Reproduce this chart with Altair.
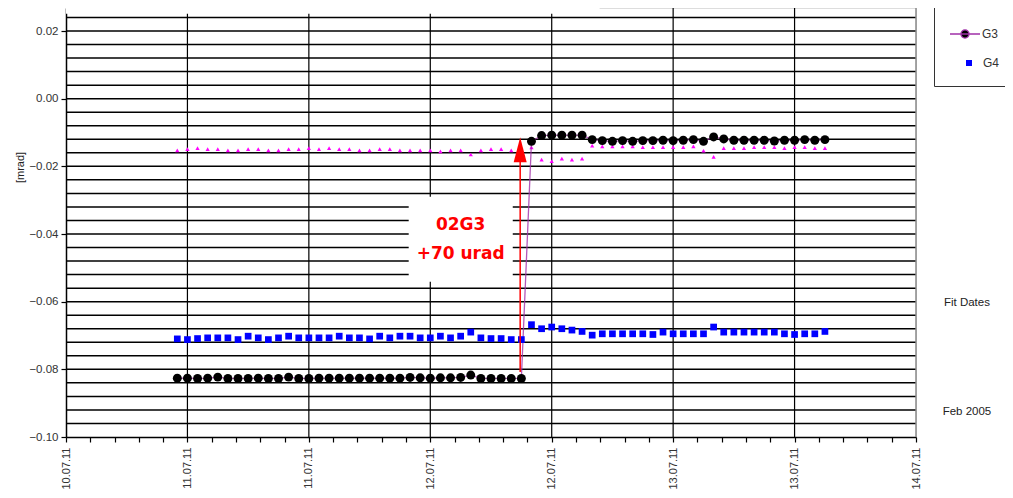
import altair as alt
import pandas as pd

# ---------------- data ----------------
start_time = "2011-07-10 23:00"   # first hourly reading
n_points = 65

g3_values = [
    -0.0826, -0.0826, -0.0827, -0.0826, -0.0823, -0.0827, -0.0827, -0.0827, -0.0826, -0.0827,
    -0.0827, -0.0823, -0.0827, -0.0827, -0.0826, -0.0826, -0.0826, -0.0826, -0.0826, -0.0826,
    -0.0826, -0.0826, -0.0826, -0.0824, -0.0825, -0.0826, -0.0825, -0.0825, -0.0824, -0.0817,
    -0.0827, -0.0827, -0.0827, -0.0827, -0.0827,
    -0.0126, -0.0109, -0.0108, -0.0108, -0.0108, -0.0108, -0.0121, -0.0124, -0.0126, -0.0124,
    -0.0126, -0.0124, -0.0124, -0.0123, -0.0124, -0.0123, -0.0121, -0.0126, -0.0113, -0.0119,
    -0.0123, -0.0123, -0.0123, -0.0123, -0.0125, -0.0123, -0.0123, -0.0121, -0.0123, -0.0121,
]
g4_values = [
    -0.0710, -0.0712, -0.0709, -0.0707, -0.0707, -0.0707, -0.0712, -0.0702, -0.0707, -0.0712,
    -0.0707, -0.0702, -0.0707, -0.0707, -0.0707, -0.0707, -0.0702, -0.0707, -0.0707, -0.0710,
    -0.0702, -0.0707, -0.0702, -0.0702, -0.0707, -0.0707, -0.0702, -0.0707, -0.0702, -0.0690,
    -0.0707, -0.0709, -0.0709, -0.0712, -0.0712,
    -0.0668, -0.0680, -0.0675, -0.0680, -0.0684, -0.0688, -0.0699, -0.0695, -0.0695, -0.0695,
    -0.0695, -0.0695, -0.0697, -0.0690, -0.0695, -0.0695, -0.0695, -0.0695, -0.0675, -0.0690,
    -0.0690, -0.0690, -0.0690, -0.0690, -0.0690, -0.0695, -0.0697, -0.0695, -0.0695, -0.0688,
]
g2_values = [
    -0.0153, -0.0149, -0.0146, -0.0149, -0.0149, -0.0153, -0.0153, -0.0149, -0.0149, -0.0153,
    -0.0153, -0.0149, -0.0149, -0.0146, -0.0149, -0.0146, -0.0149, -0.0149, -0.0153, -0.0153,
    -0.0149, -0.0149, -0.0153, -0.0153, -0.0153, -0.0153, -0.0156, -0.0153, -0.0153, -0.0165,
    -0.0153, -0.0149, -0.0149, -0.0153, -0.0153,
    -0.0144, -0.0180, -0.0185, -0.0177, -0.0180, -0.0177, -0.0139, -0.0141, -0.0141, -0.0141,
    -0.0141, -0.0143, -0.0143, -0.0143, -0.0143, -0.0143, -0.0141, -0.0154, -0.0172, -0.0146,
    -0.0146, -0.0146, -0.0143, -0.0143, -0.0143, -0.0146, -0.0143, -0.0143, -0.0146, -0.0146,
]

x_start = "2011-07-10T12:00:00Z"
x_end = "2011-07-14T00:00:00Z"
grid_times = ["2011-07-11T00:00:00Z", "2011-07-11T12:00:00Z", "2011-07-12T00:00:00Z",
              "2011-07-12T12:00:00Z", "2011-07-13T00:00:00Z", "2011-07-13T12:00:00Z"]
grid_values = [round(-0.096 + 0.004 * k, 3) for k in range(31)]
y_label_values = [-0.10, -0.08, -0.06, -0.04, -0.02, 0.00, 0.02]

arrow_time = "2011-07-12T08:53:00Z"
arrow_bottom, arrow_top, arrow_head = -0.0808, -0.0160, -0.0151
box_start, box_end = "2011-07-11T21:52:00Z", "2011-07-12T08:09:00Z"
box_top, box_bottom = -0.0290, -0.0541
note_time = "2011-07-12T03:00:00Z"
note_lines = ["02G3", "+70 urad"]
note_values = [-0.0372, -0.0458]
side_time = "2011-07-14T05:02:00Z"
side_texts = ["Fit Dates", "Feb 2005"]
side_values = [-0.0603, -0.0926]
cover_end = "2011-07-12T16:44:00Z"

# ---------------- frames ----------------
times = pd.date_range(start_time, periods=n_points, freq="h")
tstr = [t.strftime("%Y-%m-%dT%H:%M:00Z") for t in times]

g3_df = pd.DataFrame({"t": tstr, "v": g3_values, "series": "G3"})
g4_df = pd.DataFrame({"t": tstr, "v": g4_values, "series": "G4"})
g2_df = pd.DataFrame({"t": tstr, "v": g2_values})

x_ticks = list(pd.date_range("2011-07-10 12:00", "2011-07-14 00:00", freq="144min"))
x_tick_vals = [alt.DateTime(year=t.year, month=t.month, date=t.day, hours=t.hour,
                            minutes=t.minute, utc=True) for t in x_ticks]

xscale = alt.Scale(type="utc",
                   domain=[alt.DateTime(year=2011, month=7, date=10, hours=12, utc=True),
                           alt.DateTime(year=2011, month=7, date=14, hours=0, utc=True)])
yscale = alt.Scale(domain=[-0.1, 0.0268], nice=False, zero=False)

xaxis = alt.Axis(
    values=x_tick_vals, title=None, grid=False,
    labelExpr="(utchours(datum.value) % 12 == 0 && utcminutes(datum.value) == 0) ? utcFormat(datum.value, '%d.%m.%y') : ''",
    labelAngle=270, labelFontSize=11, labelColor="#333", labelPadding=5,
    labelOverlap=False, labelFlush=False, labelBound=False,
    tickSize=5, tickColor="black", tickWidth=1.2,
    domainColor="black", domainWidth=1.5, zindex=0,
)
yaxis = alt.Axis(
    values=y_label_values, format=".2f", title="[mrad]", grid=False,
    titleX=-46, titleY=159, titleAngle=270, titleFontSize=11, titleFontWeight="normal",
    titleColor="#222", titleAlign="center", titleBaseline="middle",
    labelFontSize=11.5, labelColor="#333", labelPadding=3,
    tickSize=5, tickColor="black", tickWidth=1.2,
    domainColor="black", domainWidth=1.5, zindex=0,
)


def X(field, **kw):
    return alt.X(f"{field}:T", scale=xscale, axis=xaxis, **kw)


def Y(field, **kw):
    return alt.Y(f"{field}:Q", scale=yscale, axis=yaxis, **kw)


hgrid = alt.Chart(pd.DataFrame({"v": grid_values})).mark_rule(
    color="#000", strokeWidth=1.5).encode(y=Y("v"))
vgrid = alt.Chart(pd.DataFrame({"t": grid_times})).mark_rule(
    color="#000", strokeWidth=1.2).encode(x=X("t"))
border = alt.Chart(pd.DataFrame({"t": [x_end]})).mark_rule(
    color="#888", strokeWidth=1.5).encode(x=X("t"))
cover = alt.Chart(pd.DataFrame({"t": [x_start], "t2": [cover_end], "v": [0.0251], "v2": [0.0268]})).mark_rect(
    color="white").encode(x=X("t"), x2="t2:T", y=Y("v"), y2="v2:Q")
box = alt.Chart(pd.DataFrame({"t": [box_start], "t2": [box_end], "v": [box_top], "v2": [box_bottom]})).mark_rect(
    color="white").encode(x=X("t"), x2="t2:T", y=Y("v"), y2="v2:Q")

tri = alt.Chart(g2_df).mark_point(shape="triangle-up", filled=True, size=18, color="#ff00ff",
                                   opacity=1).encode(x=X("t"), y=Y("v"))
g3_line = alt.Chart(g3_df).mark_line(color="#a030a8", strokeWidth=1.3, opacity=0.8).encode(
    x=X("t"), y=Y("v"))

P3 = "M-1,0L1,0M0.27,0A0.27,0.27,0,1,1,-0.27,0A0.27,0.27,0,1,1,0.27,0Z"

legend_g3 = alt.Legend(
    orient="none", legendX=868, legendY=-5, zindex=0,
    title="\u00a0" * 30, titleFontSize=12, titleOrient="bottom", titlePadding=19,
    padding=15, labelOffset=1,
    labelFontSize=12, labelColor="#333", labelFont="Liberation Sans",
    strokeColor="#333", fillColor="white",
    symbolType=P3, symbolSize=900, symbolFillColor="black", symbolStrokeColor="#a030a8",
    symbolStrokeWidth=1.3, symbolOpacity=1,
)
legend_g4 = alt.Legend(
    orient="none", legendX=897, legendY=49, title=None, zindex=2,
    padding=0, labelOffset=8,
    labelFontSize=12, labelColor="#333", labelFont="Liberation Sans",
    symbolType="square", symbolSize=36, symbolFillColor="blue", symbolStrokeColor="blue",
    symbolStrokeWidth=0, symbolOpacity=1,
)

g4_pts = alt.Chart(g4_df).mark_point(shape="square", filled=True, size=45, opacity=1).encode(
    x=X("t"), y=Y("v"),
    fill=alt.Fill("series:N", scale=alt.Scale(domain=["G4"], range=["blue"]), legend=legend_g4),
)
g3_pts = alt.Chart(g3_df).mark_point(shape="circle", filled=True, size=80, opacity=1).encode(
    x=X("t"), y=Y("v"),
    color=alt.Color("series:N", scale=alt.Scale(domain=["G3"], range=["black"]), legend=legend_g3),
)

arrow = alt.Chart(pd.DataFrame({"t": [arrow_time], "v": [arrow_bottom], "v2": [arrow_top]})).mark_rule(
    color="#ff0000", strokeWidth=1.5).encode(x=X("t"), y=Y("v"), y2="v2:Q")
head = alt.Chart(pd.DataFrame({"t": [arrow_time], "v": [arrow_head]})).mark_point(
    shape="M0,-1L0.52,1L-0.52,1Z", filled=True, color="#ff0000", size=625, opacity=1).encode(
    x=X("t"), y=Y("v"))

note = alt.Chart(pd.DataFrame({"t": [note_time] * 2, "v": note_values, "txt": note_lines})).mark_text(
    font="DejaVu Sans", fontWeight="bold", fontSize=17, color="#ff0000",
    align="center", baseline="middle").encode(x=X("t"), y=Y("v"), text="txt:N")
side = alt.Chart(pd.DataFrame({"t": [side_time] * 2, "v": side_values, "txt": side_texts})).mark_text(
    font="Liberation Sans", fontSize=11.5, color="#222", align="center", baseline="middle").encode(
    x=X("t"), y=Y("v"), text="txt:N")

chart = alt.layer(
    hgrid, vgrid, border, cover, box, tri, g3_line, g4_pts, g3_pts, arrow, head, note, side
).resolve_scale(color="independent", fill="independent").properties(
    width=850, height=429,
    autosize=alt.AutoSizeParams(type="none"),
    padding={"left": 58, "top": 0, "right": 89, "bottom": 53},
).configure_view(stroke=None).configure(font="Liberation Sans")

chart.save("out.html", embed_options={"renderer": "svg", "actions": False})
